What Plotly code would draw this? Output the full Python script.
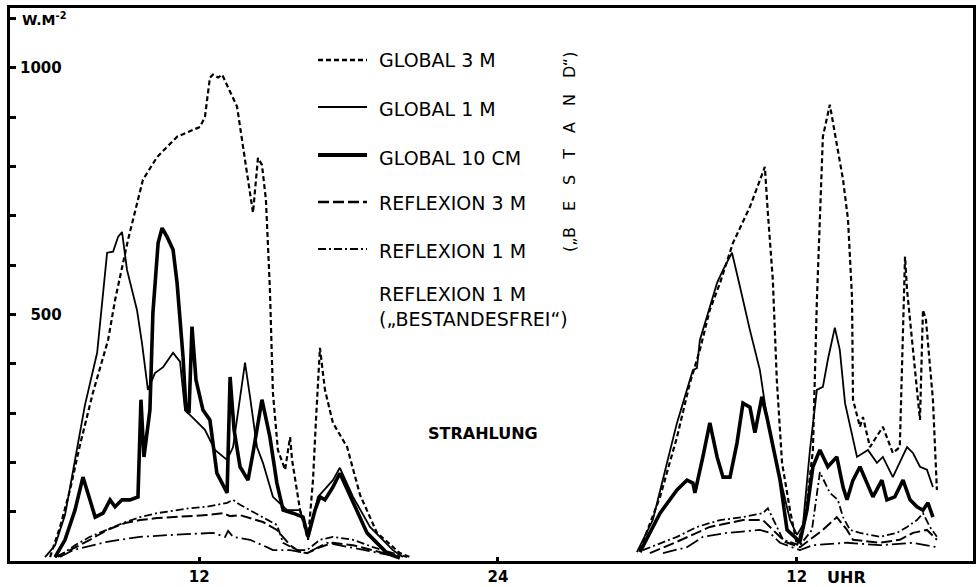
import plotly.graph_objects as go

# ---------------- data (hours since midnight of day 1, W/m^2) ----------------
g3_d1_h = [6.01, 6.41, 6.81, 7.21, 7.73, 8.14, 8.34, 8.62, 9.14, 9.74, 10.31, 11.11, 12.03, 12.23, 12.43, 12.55,
           12.76, 12.92, 13.52, 13.84, 14.16, 14.36, 14.52, 14.68, 14.84, 14.96, 15.16, 15.45, 15.65, 15.73, 16.05,
           16.37, 16.57, 16.69, 16.85, 17.05, 17.37, 17.94, 18.46, 19.14, 20.06, 20.47]
g3_d1_v = [8, 69, 144, 235, 341, 414, 448, 529, 651, 773, 819, 860, 880, 900, 980, 986,
           980, 986, 921, 813, 706, 817, 803, 732, 550, 341, 225, 185, 251, 205, 103,
           43, 164, 286, 432, 347, 280, 231, 134, 57, 16, 8]
g3_d2_h = [29.70, 30.51, 31.19, 31.71, 32.11, 32.51, 32.92, 33.44, 34.12, 34.72, 34.84, 35.04, 35.20, 35.41,
           35.73, 36.01, 36.33, 36.65, 36.81, 36.93, 37.05, 37.33, 37.86, 38.06, 38.22, 38.26, 38.54, 38.66,
           38.94, 39.46, 39.86, 40.14, 40.22, 40.35, 40.43, 40.67, 40.95, 41.07, 41.19, 41.47, 41.63]
g3_d2_v = [22, 130, 251, 361, 428, 509, 564, 645, 718, 799, 706, 570, 367, 199,
           103, 32, 83, 225, 529, 706, 860, 925, 773, 692, 535, 327, 272, 292,
           231, 272, 219, 231, 367, 617, 550, 434, 286, 509, 489, 327, 144]

g1_d1_h = [5.81, 6.21, 6.61, 7.01, 7.41, 7.90, 8.14, 8.30, 8.54, 8.74, 8.90, 9.10, 9.50, 9.70, 9.94, 10.22,
           10.55, 10.95, 11.23, 11.43, 11.83, 12.23, 12.63, 13.12, 13.36, 13.84, 14.04, 14.32, 14.56, 14.96,
           15.53, 16.05, 16.37, 16.77, 17.37, 17.65, 18.18, 18.86, 19.78, 20.18]
g1_d1_v = [8, 32, 93, 205, 316, 422, 550, 625, 627, 657, 667, 590, 509, 442, 347, 381,
           393, 422, 404, 306, 286, 266, 225, 205, 231, 402, 333, 231, 199, 130,
           103, 103, 49, 130, 164, 189, 130, 69, 22, 8]
g1_d2_h = [29.58, 30.22, 30.79, 31.19, 31.59, 31.83, 31.99, 32.11, 32.51, 32.80, 33.04, 33.40, 33.72, 34.12,
           34.52, 34.80, 35.04, 35.45, 35.73, 36.01, 36.25, 36.53, 36.81, 37.05, 37.25, 37.53, 37.73, 37.94,
           38.14, 38.42, 38.86, 39.22, 39.46, 39.86, 40.43, 40.67, 40.95, 41.23, 41.47]
g1_d2_v = [18, 83, 199, 280, 347, 387, 391, 448, 515, 564, 590, 625, 556, 468,
           387, 292, 231, 144, 83, 53, 73, 225, 347, 353, 408, 473, 428, 320,
           272, 211, 225, 199, 211, 170, 231, 219, 191, 185, 150]

g10_d1_h = [6.21, 6.61, 7.01, 7.33, 7.61, 7.82, 8.14, 8.42, 8.62, 8.90, 9.22, 9.54, 9.66, 9.78, 10.02, 10.14,
            10.35, 10.51, 10.71, 10.95, 11.11, 11.23, 11.35, 11.47, 11.59, 11.71, 11.87, 12.15, 12.43, 12.71,
            13.12, 13.24, 13.40, 13.64, 13.96, 14.16, 14.52, 14.84, 15.12, 15.37, 15.77, 16.17, 16.37, 16.65,
            16.85, 17.05, 17.37, 17.65, 18.18, 18.74, 19.54, 20.06]
g10_d1_v = [8, 43, 103, 170, 124, 89, 97, 124, 110, 124, 124, 130, 327, 211, 306, 503,
            645, 675, 657, 631, 564, 495, 414, 306, 300, 475, 367, 306, 286, 178,
            138, 373, 266, 191, 164, 219, 327, 251, 158, 103, 97, 89, 49, 103,
            130, 124, 150, 178, 118, 57, 16, 6]
g10_d2_h = [29.70, 30.51, 31.19, 31.59, 31.83, 31.91, 32.23, 32.51, 32.80, 33.04, 33.32, 33.60, 33.84, 34.12,
            34.32, 34.44, 34.60, 34.80, 35.04, 35.33, 35.61, 36.13, 36.41, 36.65, 36.93, 37.25, 37.61, 37.86,
            38.02, 38.26, 38.54, 38.82, 39.06, 39.42, 39.62, 39.94, 40.27, 40.55, 40.83, 41.07, 41.27, 41.47]
g10_d2_v = [18, 97, 144, 164, 158, 138, 211, 280, 211, 170, 170, 239, 320, 312,
            260, 292, 333, 292, 231, 164, 63, 39, 103, 191, 225, 191, 211, 150,
            124, 164, 191, 158, 130, 164, 124, 130, 164, 124, 110, 103, 118, 89]

r1_d1_h = [6.33, 7.01, 7.61, 8.30, 8.94, 9.62, 10.31, 11.63, 12.31, 13.12, 13.36, 13.64, 14.04, 14.56, 15.12,
           15.37, 15.93, 16.33, 16.85, 17.37, 18.18, 18.98, 19.78, 20.35]
r1_d1_v = [8, 32, 49, 63, 77, 89, 97, 107, 110, 118, 124, 114, 103, 87, 73,
           37, 22, 22, 43, 49, 43, 28, 16, 8]
r1_d2_h = [29.82, 31.19, 31.99, 32.92, 33.84, 34.64, 34.84, 35.12, 35.45, 36.13, 36.61, 36.93, 37.33, 37.65,
           37.86, 38.14, 38.54, 39.34, 40.02, 40.43, 40.83, 41.07, 41.35, 41.63]
r1_d2_v = [22, 49, 69, 83, 89, 97, 107, 77, 43, 32, 63, 180, 138, 124,
           89, 63, 57, 49, 57, 69, 83, 97, 69, 49]

r3_d1_h = [6.21, 6.81, 7.61, 8.30, 9.02, 9.62, 10.31, 10.95, 12.31, 12.96, 13.24, 13.64, 14.04, 14.56, 15.12,
           15.65, 16.05, 16.33, 16.85, 17.37, 18.18, 18.98, 20.06]
r3_d1_v = [8, 22, 43, 63, 77, 83, 87, 89, 93, 97, 91, 93, 87, 79, 63,
           32, 18, 16, 28, 37, 32, 22, 8]
r3_d2_h = [30.10, 31.19, 32.51, 33.84, 34.64, 35.04, 35.53, 36.13, 37.05, 37.61, 38.02, 38.26, 39.34, 40.14,
           40.67, 41.23, 41.63]
r3_d2_v = [16, 39, 69, 83, 83, 63, 39, 28, 63, 89, 63, 43, 37, 43,
           57, 63, 43]

rf_d1_h = [6.41, 6.93, 8.30, 9.62, 10.95, 12.55, 13.04, 13.16, 13.36, 14.04, 14.72, 14.96, 15.65, 16.33,
           17.13, 18.06, 19.38, 20.06]
rf_d1_v = [8, 22, 39, 49, 53, 57, 49, 61, 49, 43, 28, 22, 22, 16,
           37, 28, 16, 8]
rf_d2_h = [30.63, 31.59, 32.23, 33.20, 34.52, 34.92, 35.33, 36.13, 36.65, 38.02, 39.34, 40.67, 41.63]
rf_d2_v = [16, 28, 49, 57, 63, 57, 37, 22, 32, 37, 32, 37, 28]

x_tick_vals = [12, 24, 36]
x_tick_text = ["12", "24", "12"]
y_tick_vals = [500, 1000]
y_tick_text = ["\u2007500", "1000"]

legend_labels = ["GLOBAL 3 M", "GLOBAL 1 M", "GLOBAL 10 CM", "REFLEXION 3 M", "REFLEXION 1 M",
                 "REFLEXION 1 M<br>(\u201eBESTANDESFREI\u201c)"]

# ---------------- styles ----------------
FONT = "DejaVu Sans"
styles = {
    "g3": dict(color="black", width=2.2, dash="5px,3px"),
    "g1": dict(color="black", width=1.8, dash="solid"),
    "g10": dict(color="black", width=3.6, dash="solid"),
    "r3": dict(color="black", width=2.0, dash="11px,4px"),
    "r1": dict(color="black", width=1.8, dash="8px,3px,2px,3px"),
    "rf": dict(color="black", width=1.8, dash="14px,4px,2px,4px"),
}

series = [
    ("rf", rf_d1_h, rf_d1_v, rf_d2_h, rf_d2_v),
    ("r3", r3_d1_h, r3_d1_v, r3_d2_h, r3_d2_v),
    ("r1", r1_d1_h, r1_d1_v, r1_d2_h, r1_d2_v),
    ("g3", g3_d1_h, g3_d1_v, g3_d2_h, g3_d2_v),
    ("g1", g1_d1_h, g1_d1_v, g1_d2_h, g1_d2_v),
    ("g10", g10_d1_h, g10_d1_v, g10_d2_h, g10_d2_v),
]

fig = go.Figure()
for key, h1, v1, h2, v2 in series:
    fig.add_trace(go.Scatter(x=h1 + [None] + h2, y=v1 + [None] + v2, mode="lines",
                             line=dict(shape="linear", **styles[key]), showlegend=False,
                             hoverinfo="skip"))

# plot area geometry in pixels
L, R, T, B = 10, 6, 8, 26
W, H = 979, 587
pw, ph = W - L - R, H - T - B


def px_x(px):
    return (px - L) / pw


def px_y(py):
    return (H - B - py) / ph


# manual legend
leg_keys = ["g3", "g1", "g10", "r3", "r1", None]
leg_line_y = [60, 107, 155, 202, 249, None]
leg_text_y = [60, 109, 158, 203, 251, 307]
for k, ly, ty, lab in zip(leg_keys, leg_line_y, leg_text_y, legend_labels):
    if k is not None:
        st = styles[k]
        fig.add_shape(type="line", xref="paper", yref="paper",
                      x0=px_x(318), x1=px_x(367), y0=px_y(ly), y1=px_y(ly),
                      line=dict(color="black", width=st["width"] + 0.4, dash=st["dash"]))
    fig.add_annotation(xref="paper", yref="paper", x=px_x(377), y=px_y(ty), xanchor="left",
                       yanchor="middle", text=lab, showarrow=False, align="left",
                       font=dict(family=FONT, size=19, color="black"))

sp = "\u2003"
fig.add_annotation(xref="paper", yref="paper", x=px_x(570), y=px_y(152), textangle=-90,
                   xanchor="center", yanchor="middle",
                   text="(\u201e" + sp.join(list("BESTAND")) + "\u201c)", showarrow=False,
                   font=dict(family=FONT, size=16, color="black"))
fig.add_annotation(xref="paper", yref="paper", x=px_x(483), y=px_y(433),
                   xanchor="center", yanchor="middle",
                   text="<b>STRAHLUNG</b>", showarrow=False,
                   font=dict(family=FONT, size=16, color="black"))
fig.add_annotation(xref="paper", yref="paper", x=px_x(20), y=px_y(19), xanchor="left",
                   yanchor="middle",
                   text="<b>W.M<sup>-2</sup></b>", showarrow=False,
                   font=dict(family=FONT, size=14, color="black"))
fig.add_annotation(xref="x", yref="paper", x=36, xshift=28, y=px_y(577), xanchor="left",
                   yanchor="middle", text="<b>UHR</b>", showarrow=False,
                   font=dict(family=FONT, size=16, color="black"))

fig.update_layout(
    width=W, height=H,
    margin=dict(l=L, r=R, t=T, b=B, pad=0, autoexpand=False),
    paper_bgcolor="white", plot_bgcolor="white",
    showlegend=False,
    xaxis=dict(range=[4.40, 43.08], tickvals=x_tick_vals, ticktext=x_tick_text,
               automargin=False,
               showgrid=False, zeroline=False, showline=True, linewidth=3, linecolor="black",
               mirror=True, ticks="inside", ticklen=4, tickwidth=3, tickcolor="black",
               ticklabelstandoff=0,
               tickfont=dict(family=FONT, size=15, color="black", weight="bold")),
    yaxis=dict(range=[0, 1121], tickvals=y_tick_vals, ticktext=y_tick_text,
               automargin=False,
               showgrid=False, zeroline=False, showline=True, linewidth=3, linecolor="black",
               mirror=True, ticks="inside", ticklen=6, tickwidth=3, tickcolor="black",
               ticklabelposition="inside", ticklabelstandoff=4,
               minor=dict(ticks="inside", ticklen=6, tickwidth=3, tickcolor="black",
                          tick0=0, dtick=100, showgrid=False),
               tickfont=dict(family=FONT, size=15, color="black", weight="bold")),
)

fig.write_html("out.html", config={"displayModeBar": False},
               post_script="document.body.style.margin='0';")
